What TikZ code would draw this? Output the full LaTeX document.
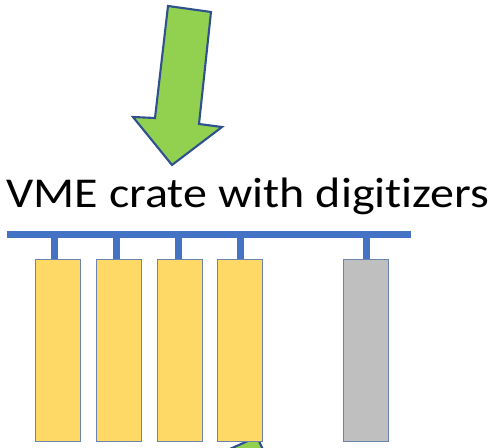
\documentclass[tikz,border=0pt]{standalone}
\usepackage{fontspec}
\setmainfont{Carlito}[Ligatures={NoCommon}]
\definecolor{arrgreen}{HTML}{92D050}
\definecolor{arrblue}{HTML}{2F528F}
\definecolor{busblue}{HTML}{4472C4}
\definecolor{slotyellow}{HTML}{FFD966}
\definecolor{slotgray}{HTML}{BFBFBF}
\definecolor{slotedge}{HTML}{6A84AE}
\begin{document}
\begin{tikzpicture}[x=0.02cm,y=-0.02cm,
  bigarrow/.style={fill=arrgreen,draw=arrblue,line width=1.2pt,line join=miter},
  slot/.style={draw=slotedge,line width=0.8pt,minimum width=45*0.02cm,minimum height=182*0.02cm,inner sep=0pt,anchor=north west},
  busbar/.style={fill=busblue,inner sep=0pt,minimum height=7*0.02cm,minimum width=404*0.02cm},
  stub/.style={draw=busblue,line width=7*0.02cm}]
\useasboundingbox (0,0) rectangle (500,448);
% top arrow
\filldraw[bigarrow] (168,6) -- (211,12) -- (199,124) -- (222,127) -- (172,165) -- (133,117) -- (155,118) -- cycle;
% bottom arrow (partly visible)
\begin{scope}
\clip (0,0) rectangle (500,448);
\filldraw[bigarrow] (257,437) -- (266,456) -- (214,456) -- cycle;
\end{scope}
% title
\node[anchor=base,inner sep=0pt,font=\fontsize{24.2}{29}\selectfont] (title) at (248,207.3) {\scalebox{1.13}[1]{VME crate with digitizers}};
% bus
\node[busbar] (bus) at (209,234.5) {};
% slots
\node[slot,fill=slotyellow] (s1) at (35,259) {};
\node[slot,fill=slotyellow] (s2) at (96,259) {};
\node[slot,fill=slotyellow] (s3) at (157,259) {};
\node[slot,fill=slotyellow] (s4) at (217,259) {};
\node[slot,fill=slotgray] (s5) at (343,259) {};
\draw[stub] ([xshift=-3.7*0.02cm]s1.north) -- ([xshift=-3.7*0.02cm]s1.north |- bus.center);
\draw[stub] ([xshift=-2.5*0.02cm]s2.north) -- ([xshift=-2.5*0.02cm]s2.north |- bus.center);
\draw[stub] ([xshift=-1.5*0.02cm]s3.north) -- ([xshift=-1.5*0.02cm]s3.north |- bus.center);
\draw[stub] ([xshift=0.5*0.02cm]s4.north) -- ([xshift=0.5*0.02cm]s4.north |- bus.center);
\draw[stub] ([xshift=0.5*0.02cm]s5.north) -- ([xshift=0.5*0.02cm]s5.north |- bus.center);
\end{tikzpicture}
\end{document}
